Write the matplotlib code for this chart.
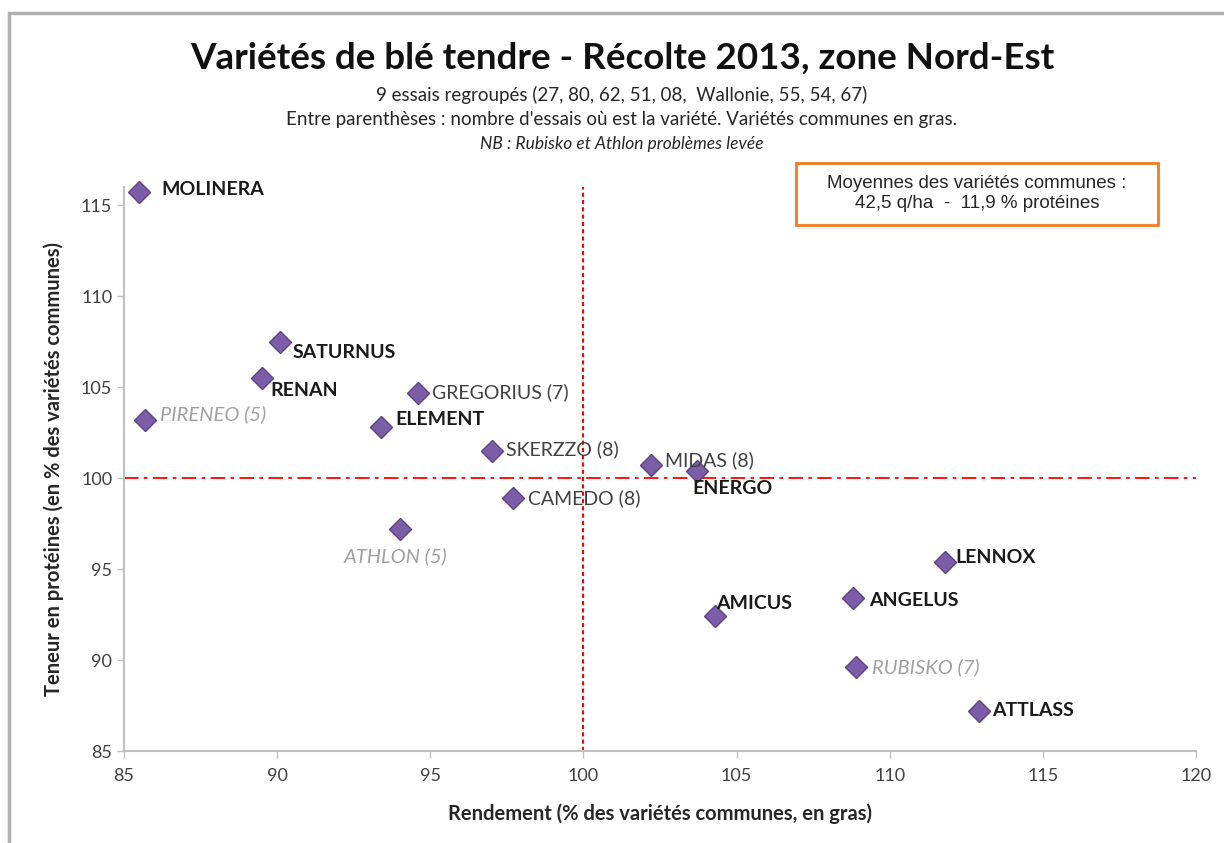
import matplotlib
matplotlib.use("Agg")
import matplotlib.pyplot as plt
from matplotlib.patches import Rectangle

# Data
varieties = ["MOLINERA", "SATURNUS", "RENAN", "PIRENEO (5)", "GREGORIUS (7)", "ELEMENT",
             "SKERZZO (8)", "MIDAS (8)", "ENERGO", "CAMEDO (8)", "ATHLON (5)", "LENNOX",
             "ANGELUS", "AMICUS", "RUBISKO (7)", "ATTLASS"]
rendement = [85.5, 90.1, 89.5, 85.7, 94.6, 93.4, 97.0, 102.2, 103.7, 97.7, 94.0, 111.8,
             108.8, 104.3, 108.9, 112.9]
proteines = [115.7, 107.5, 105.5, 103.2, 104.7, 102.8, 101.5, 100.7, 100.4, 98.9, 97.2, 95.4,
             93.4, 92.4, 89.6, 87.2]
# label style: b = common (bold), n = normal, i = italic grey
styles = ["b", "b", "b", "i", "n", "b", "n", "n", "b", "n", "i", "b", "b", "b", "i", "b"]
# label offsets in pixels (dx, dy with dy positive = down)
offsets = [(22, -3), (12, 11), (9, 12), (15, -6), (14, 0), (14, -8), (14, -2), (14, -5),
           (-4, 18), (15, 0), (-56, 27), (11, -4), (16, 2), (1, -13), (16, 0), (14, 0)]

xticks = [85, 90, 95, 100, 105, 110, 115, 120]
yticks = [85, 90, 95, 100, 105, 110, 115]

fam = ["Lato", "DejaVu Sans"]

fig = plt.figure(figsize=(12.24, 8.43), dpi=100)
fig.patch.set_facecolor("white")
# outer chart-area border
fig.patches.append(Rectangle((9 / 1224, -0.05), 1.1, 1 - 13 / 843 + 0.05, transform=fig.transFigure,
                             fill=False, edgecolor="#B0B0B0", linewidth=2.5))

ax = fig.add_axes([124 / 1224, 1 - 751 / 843, (1196 - 124) / 1224, (751 - 187) / 843])
ax.set_xlim(85, 120)
ax.set_ylim(85, 116)
ax.set_xticks(xticks)
ax.set_yticks(yticks)
ax.set_xticklabels([str(t) for t in xticks], family=fam, fontsize=13, color="#404040")
ax.set_yticklabels([str(t) for t in yticks], family=fam, fontsize=13, color="#404040")
for s in ["top", "right"]:
    ax.spines[s].set_visible(False)
for s in ["left", "bottom"]:
    ax.spines[s].set_color("#C0C0C0")
    ax.spines[s].set_linewidth(1.5)
ax.tick_params(axis="both", direction="out", length=5, color="#C0C0C0", width=1)
ax.tick_params(axis="x", pad=7)

ax.axvline(100, color="#FF0000", linestyle=(0, (2, 1.5)), linewidth=1.5, zorder=1)
ax.axhline(100, color="#FF0000", linestyle=(0, (8, 3, 2, 3)), linewidth=1.3, zorder=1)

ax.plot(rendement, proteines, linestyle="none", marker="D", markersize=11,
        markerfacecolor="#7B5EA7", markeredgecolor="#5E4288", markeredgewidth=1, zorder=3,
        clip_on=False)

for name, x, y, st, (dx, dy) in zip(varieties, rendement, proteines, styles, offsets):
    kw = dict(family=fam, fontsize=14, va="center", ha="left")
    if st == "b":
        kw.update(fontweight="bold", color="#1a1a1a")
    elif st == "n":
        kw.update(color="#404040")
    else:
        kw.update(style="italic", color="#A0A0A0", fontsize=14.5)
    ax.annotate(name, (x, y), xytext=(dx * 0.72, -dy * 0.72), textcoords="offset points", **kw)

ax.set_xlabel("Rendement (% des variétés communes, en gras)", family=fam, fontsize=14.5,
              fontweight="bold", color="#262626", labelpad=14)
ax.set_ylabel("Teneur en protéines (en % des variétés communes)", family=fam, fontsize=14.5,
              fontweight="bold", color="#262626", labelpad=12)

fig.text(622 / 1224, 1 - 58 / 843, "Variétés de blé tendre - Récolte 2013, zone Nord-Est",
         family=fam, fontsize=26.5, fontweight="bold", ha="center", va="center", color="#111111")
fig.text(622 / 1224, 1 - 95 / 843, "9 essais regroupés (27, 80, 62, 51, 08,  Wallonie, 55, 54, 67)",
         family=fam, fontsize=13.5, ha="center", va="center", color="#262626")
fig.text(622 / 1224, 1 - 120 / 843,
         "Entre parenthèses : nombre d'essais où est la variété. Variétés communes en gras.",
         family=fam, fontsize=13.5, ha="center", va="center", color="#262626")
fig.text(622 / 1224, 1 - 144 / 843, "NB : Rubisko et Athlon problèmes levée",
         family=fam, fontsize=12.5, style="italic", ha="center", va="center", color="#262626")

# box with means
fig.patches.append(Rectangle((796 / 1224, 1 - 225 / 843), (1158 - 796) / 1224, (225 - 163) / 843,
                             transform=fig.transFigure, fill=True, facecolor="white",
                             edgecolor="#F47920", linewidth=2, zorder=5))
fig.text(977 / 1224, 1 - 184 / 843, "Moyennes des variétés communes :",
         family=["Liberation Sans", "DejaVu Sans"], fontsize=13.5, ha="center", va="center",
         color="#262626", zorder=6)
fig.text(977 / 1224, 1 - 204 / 843, "42,5 q/ha  -  11,9 % protéines",
         family=["Liberation Sans", "DejaVu Sans"], fontsize=13.5, ha="center", va="center",
         color="#262626", zorder=6)

fig.savefig("out.png", dpi=100, facecolor="white")
